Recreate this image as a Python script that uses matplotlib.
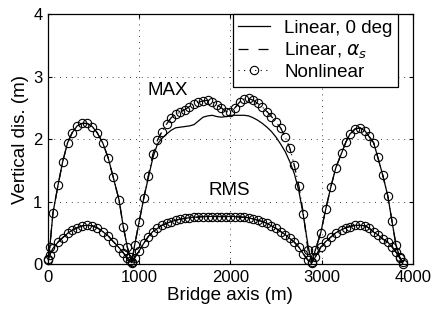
import numpy as np
import matplotlib
matplotlib.use("Agg")
import matplotlib.pyplot as plt

plt.rcParams['font.family'] = ['Liberation Sans', 'DejaVu Sans']

# ---- data ----
side1_x = [0, 20, 55, 110, 160, 215, 265, 320, 375, 430, 485, 540, 600, 660, 715, 780, 825, 870, 900, 920]
side1_max = [0.08, 0.27, 0.82, 1.26, 1.63, 1.94, 2.10, 2.21, 2.25, 2.25, 2.20, 2.10, 1.94, 1.70, 1.39, 1.02, 0.60, 0.27, 0.11, 0.03]
side1_rms = [0.06, 0.15, 0.25, 0.35, 0.42, 0.49, 0.54, 0.58, 0.61, 0.62, 0.61, 0.58, 0.52, 0.45, 0.36, 0.26, 0.18, 0.10, 0.05, 0.02]

main_x = [950, 1000, 1050, 1100, 1150, 1200, 1250, 1300, 1350, 1400, 1450, 1500, 1550, 1600,
          1650, 1700, 1750, 1800, 1850, 1900, 1950, 2000, 2050, 2100, 2150, 2200, 2250, 2300,
          2350, 2400, 2450, 2500, 2550, 2600, 2650, 2700, 2750, 2800, 2850, 2890]
main_max_nl = [0.30, 0.68, 1.06, 1.41, 1.76, 1.98, 2.12, 2.24, 2.34, 2.40, 2.43, 2.47, 2.52, 2.56,
               2.59, 2.61, 2.62, 2.60, 2.55, 2.50, 2.44, 2.43, 2.50, 2.59, 2.64, 2.65, 2.62, 2.57,
               2.51, 2.44, 2.36, 2.27, 2.18, 2.03, 1.86, 1.58, 1.25, 0.80, 0.22, 0.03]
main_max_lin = [0.30, 0.68, 1.05, 1.38, 1.70, 1.92, 2.01, 2.08, 2.14, 2.18, 2.19, 2.20, 2.21, 2.23,
                2.29, 2.35, 2.37, 2.38, 2.36, 2.35, 2.36, 2.38, 2.38, 2.38, 2.38, 2.37, 2.34, 2.30,
                2.25, 2.19, 2.12, 2.03, 1.92, 1.80, 1.64, 1.45, 1.17, 0.77, 0.30, 0.03]
main_rms = [0.10, 0.21, 0.33, 0.44, 0.52, 0.57, 0.62, 0.65, 0.68, 0.70, 0.72, 0.73, 0.74, 0.75,
            0.75, 0.76, 0.76, 0.76, 0.76, 0.76, 0.76, 0.76, 0.76, 0.75, 0.75, 0.74, 0.72, 0.70,
            0.68, 0.65, 0.61, 0.57, 0.52, 0.47, 0.41, 0.35, 0.27, 0.16, 0.06, 0.02]

side2_x = [2930, 2990, 3045, 3100, 3155, 3220, 3265, 3310, 3365, 3420, 3475, 3515, 3570, 3615, 3670, 3725, 3770, 3815, 3855, 3890]
side2_max = [0.22, 0.50, 0.88, 1.23, 1.54, 1.78, 1.95, 2.08, 2.16, 2.18, 2.13, 2.05, 1.94, 1.71, 1.42, 1.09, 0.69, 0.30, 0.11, 0.0]
side2_rms = [0.11, 0.27, 0.36, 0.43, 0.50, 0.55, 0.58, 0.60, 0.62, 0.62, 0.61, 0.58, 0.51, 0.47, 0.40, 0.35, 0.27, 0.19, 0.10, 0.03]

x_ticks = [0, 1000, 2000, 3000, 4000]
y_ticks = [0, 1, 2, 3, 4]

bx = np.array(side1_x + main_x + side2_x, dtype=float)
max_nl = np.array(side1_max + main_max_nl + side2_max)
max_lin = np.array(side1_max + main_max_lin + side2_max)
rms = np.array(side1_rms + main_rms + side2_rms)

fig = plt.figure(figsize=(4.36, 3.20), dpi=100)
ax = fig.add_axes([0.110, 0.175, 0.837, 0.781])

lw = 0.9
dash = (0, (8, 8))
# Linear, 0 deg (solid)
l1, = ax.plot(bx, max_lin, '-', color='black', lw=lw, label='Linear, 0 deg')
ax.plot(bx, rms, '-', color='black', lw=lw)
# Linear, alpha_s (dashed)
l2, = ax.plot(bx, max_nl, linestyle=dash, color='black', lw=lw, label=r'Linear, $\alpha_s$')
ax.plot(bx, rms, linestyle=dash, color='black', lw=lw)
# Nonlinear (circles)
l3, = ax.plot(bx, max_nl, linestyle=(0, (1, 4)), marker='o', mfc='none', mec='black', ms=6, mew=0.8,
              color='black', lw=0.8, label='Nonlinear', clip_on=False)
ax.plot(bx, rms, linestyle=(0, (1, 4)), marker='o', mfc='none', mec='black', ms=6, mew=0.8,
        color='black', lw=0.8, clip_on=False)

ax.set_xlim(0, 4000)
ax.set_ylim(0, 4)
ax.set_xticks(x_ticks)
ax.set_yticks(y_ticks)
ax.tick_params(direction='in', top=True, right=True, labelsize=12, length=3, width=0.8, pad=4)
ax.grid(True, color='black', linestyle=(0, (1, 6)), linewidth=0.6)
for s in ax.spines.values():
    s.set_linewidth(0.9)

ax.set_xlabel('Bridge axis (m)', fontsize=13.5, labelpad=2)
ax.set_ylabel('Vertical dis. (m)', fontsize=13.5, labelpad=3)

ax.text(1308, 2.78, 'MAX', fontsize=13.5, ha='center', va='center')
ax.text(1990, 1.18, 'RMS', fontsize=13.5, ha='center', va='center')

leg = ax.legend(handles=[l1, l2, l3], loc='upper right', bbox_to_anchor=(0.96, 1.0),
                borderaxespad=0, fontsize=13.5, frameon=True, fancybox=False,
                edgecolor='black', handlelength=1.7, labelspacing=0.18, numpoints=1,
                borderpad=0.3, handletextpad=0.75)
leg.get_frame().set_linewidth(0.9)
leg.get_frame().set_alpha(1)

fig.savefig('out.png', dpi=100)
